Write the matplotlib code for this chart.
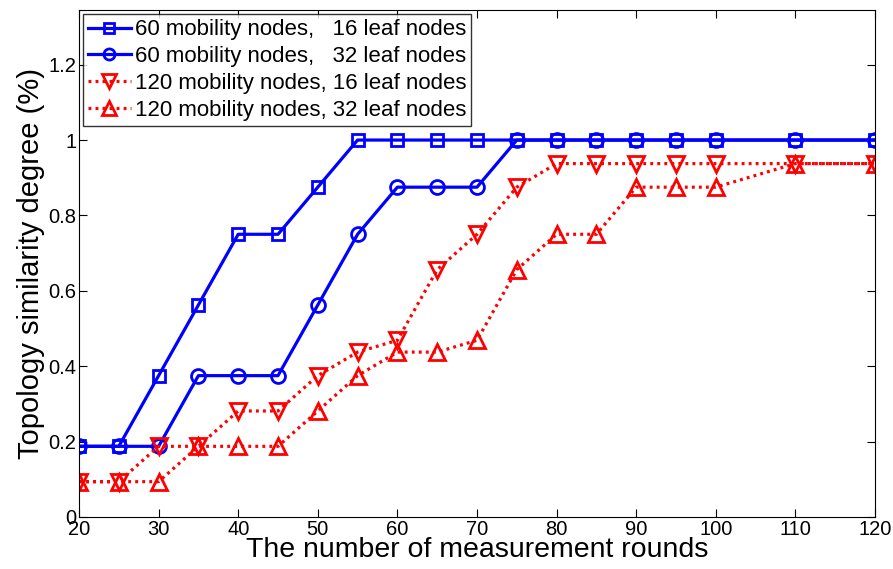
import matplotlib

matplotlib.use("Agg")
import matplotlib.pyplot as plt

plt.rcParams["font.family"] = ["Liberation Sans", "DejaVu Sans"]

rounds = [20, 25, 30, 35, 40, 45, 50, 55, 60, 65, 70, 75, 80, 85, 90, 95, 100, 110, 120]

sim_60_16 = [0.1875, 0.1875, 0.375, 0.5625, 0.75, 0.75, 0.875, 1, 1, 1, 1, 1, 1, 1, 1, 1, 1, 1, 1]
sim_60_32 = [0.1875, 0.1875, 0.1875, 0.375, 0.375, 0.375, 0.5625, 0.75, 0.875, 0.875, 0.875,
             1, 1, 1, 1, 1, 1, 1, 1]
sim_120_16 = [0.09375, 0.09375, 0.1875, 0.1875, 0.28125, 0.28125, 0.375, 0.4375, 0.46875,
              0.65625, 0.75, 0.875, 0.9375, 0.9375, 0.9375, 0.9375, 0.9375, 0.9375, 0.9375]
sim_120_32 = [0.09375, 0.09375, 0.09375, 0.1875, 0.1875, 0.1875, 0.28125, 0.375, 0.4375,
              0.4375, 0.46875, 0.65625, 0.75, 0.75, 0.875, 0.875, 0.875, 0.9375, 0.9375]

labels = [
    "60 mobility nodes,   16 leaf nodes",
    "60 mobility nodes,   32 leaf nodes",
    "120 mobility nodes, 16 leaf nodes",
    "120 mobility nodes, 32 leaf nodes",
]

fig = plt.figure(figsize=(8.93, 5.69), dpi=100)
ax = fig.add_axes([79 / 893, 1 - 517 / 569, 796 / 893, 507 / 569])

dot = (0, (0.9, 1.3))
common = dict(linewidth=2.3, markerfacecolor="none", markeredgewidth=2)
ax.plot(rounds, sim_60_16, color="#0000ff", linestyle="-", marker="s", markersize=8.5,
        label=labels[0], **common)
ax.plot(rounds, sim_60_32, color="#0000ff", linestyle="-", marker="o", markersize=10,
        label=labels[1], **common)
ax.plot(rounds, sim_120_16, color="#ff0000", linestyle=dot, marker="v", markersize=12,
        label=labels[2], **common)
ax.plot(rounds, sim_120_32, color="#ff0000", linestyle=dot, marker="^", markersize=12,
        label=labels[3], **common)

ax.set_xlim(20, 120)
ax.set_ylim(0, 1.345)
ax.set_xticks(range(20, 121, 10))
ax.set_yticks([0, 0.2, 0.4, 0.6, 0.8, 1, 1.2])
ax.set_yticklabels(["0", "0.2", "0.4", "0.6", "0.8", "1", "1.2"])
ax.tick_params(direction="in", top=True, right=True, labelsize=14.5, length=6, width=0.8, pad=2)
for s in ax.spines.values():
    s.set_linewidth(0.8)

ax.set_xlabel("The number of measurement rounds", fontsize=20.5, labelpad=-1)
ax.set_ylabel("Topology similarity degree (%)", fontsize=21, labelpad=2)

leg = ax.legend(loc="upper left", fontsize=16, frameon=True, fancybox=False, edgecolor="black",
                handlelength=1.9, handletextpad=0.2, borderpad=0.22, labelspacing=0.26,
                borderaxespad=0.2, markerscale=0.8)
leg.get_frame().set_linewidth(1.0)

fig.savefig("out.png", dpi=100)
